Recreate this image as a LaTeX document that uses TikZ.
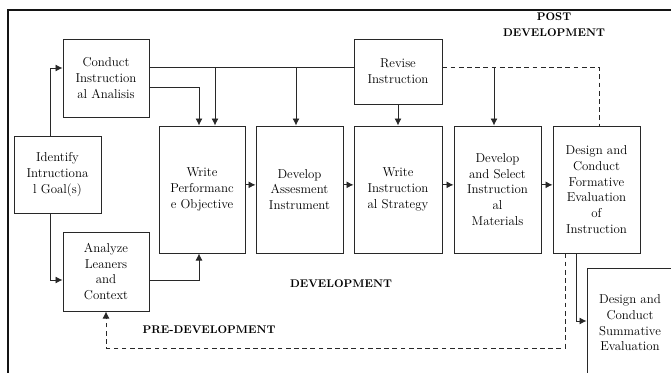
\documentclass[tikz,border=0pt]{standalone}
\usepackage{tikz}
\usetikzlibrary{positioning,calc}
\usetikzlibrary{arrows.meta}
\definecolor{FrameBlack}{RGB}{20,20,20}
\definecolor{LineGray}{RGB}{40,40,40}
\tikzset{
  blk/.style={draw=LineGray,line width=0.8pt,fill=white,inner sep=2pt,
    minimum width=2.58cm,align=center,font=\fontsize{11}{13.4}\selectfont},
  flow/.style={draw=LineGray,line width=0.8pt,-{Latex[length=6pt,width=6pt]}},
  back/.style={flow,dash pattern=on 4pt off 3pt},
}
\tikzset{phase/.style={align=center,font=\fontsize{9.5}{13.5}\selectfont\bfseries}}

\begin{document}
\begin{tikzpicture}
\useasboundingbox (0,0) rectangle (20.13,11.16);
\clip (0,0) rectangle (20.13,11.16);
% frame
\draw[FrameBlack,line width=1.6pt] (0.24,-0.2) -- (0.24,10.86) -- (20.4,10.86);
% boxes
\node[blk,minimum height=2.34cm] (conduct) at (3.18,8.82) {Conduct\\Instruction\\al Analisis};
\node[blk,minimum width=2.61cm,minimum height=2.31cm] (identify) at (1.725,5.925) {Identify\\Intructiona\\l Goal(s)};
\node[blk,minimum height=2.37cm] (analyze) at (3.18,3.015) {Analyze\\Leaners\\and\\Context};
\node[blk,minimum height=3.81cm] (wpo) at (6.06,5.475) {Write\\Performanc\\e Objective};
\node[blk,minimum width=2.61cm,minimum height=3.81cm] (dai) at (8.985,5.475) {Develop\\Assesment\\Instrument};
\node[blk,minimum width=2.64cm,minimum height=3.81cm] (wis) at (11.94,5.475) {Write\\Instruction\\al Strategy};
\node[blk,minimum width=2.61cm,minimum height=3.81cm] (dsim) at (14.925,5.475) {Develop\\and Select\\Instruction\\al\\Materials};
\node[blk,minimum width=2.61cm,minimum height=3.81cm] (form) at (17.895,5.475) {Design and\\Conduct\\Formative\\Evaluation\\of\\Instruction};
\node[blk,minimum width=2.64cm,minimum height=1.95cm] (revise) at (11.94,9.015) {Revise\\Instruction};
\node[blk,minimum height=3.3cm] (summ) at (18.9,1.47) {Design and\\Conduct\\Summative\\Evaluation};
% phase labels
\node[phase] (post) at (16.62,10.41) {POST\\DEVELOPMENT};
\node[phase] (dev) at (10.23,2.64) {DEVELOPMENT};
\node[phase] (pre) at (6.27,1.26) {PRE-DEVELOPMENT};
% connector points
\coordinate (hi) at (1.5,9.12);
\coordinate (lo) at (1.5,2.76);
\coordinate (top) at (0,9.15);
\coordinate (b0) at (5.97,8.55);
\coordinate (b1) at (6.45,9.15);
\coordinate (b2) at (8.88,9.15);
\coordinate (b3) at (14.82,9.15);
\coordinate (d1) at (17.97,9.15);
\coordinate (f1) at (17.28,1.53);
\coordinate (f2) at (16.95,0.72);
% connectors
\draw[flow] (hi |- identify.north) -- (hi) -- (hi -| conduct.west);
\draw[flow] (lo |- identify.south) -- (lo) -- (lo -| analyze.west);
\draw[LineGray,line width=0.8pt] (conduct.east |- top) -- (revise.west |- top);
\draw[flow] (conduct.east |- b0) -| (b0 |- wpo.north);
\draw[flow] (b1) -- (b1 |- wpo.north);
\draw[flow] (b2) -- (b2 |- dai.north);
\draw[flow] (analyze.east |- lo) -| (b0 |- wpo.south);
\draw[flow] ([yshift=0.14cm]wpo.east) -- ([yshift=0.14cm]dai.west);
\draw[flow] ([yshift=0.14cm]dai.east) -- ([yshift=0.14cm]wis.west);
\draw[flow] ([yshift=0.14cm]wis.east) -- ([yshift=0.14cm]dsim.west);
\draw[flow] ([yshift=0.14cm]dsim.east) -- ([yshift=0.14cm]form.west);
\draw[flow] (revise) -- (wis);
\draw[back,-] (revise.east |- top) -- (d1) -- (d1 |- form.north);
\draw[flow] (b3) -- (b3 |- dsim.north);
\draw[flow] (f1 |- form.south) -- (f1) -- (f1 -| summ.west);
\draw[back] (f2 |- form.south) -- (f2) -- (analyze.south |- f2) -- (analyze.south);
\end{tikzpicture}
\end{document}
